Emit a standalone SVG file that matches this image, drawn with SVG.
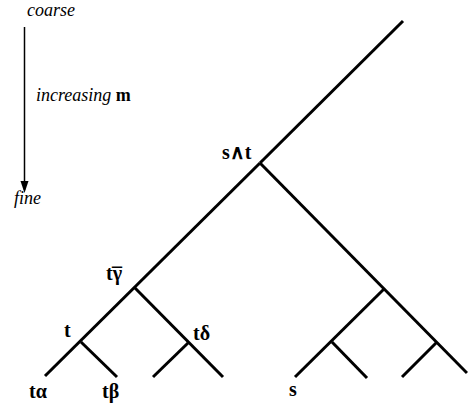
<svg xmlns="http://www.w3.org/2000/svg" width="468" height="405" viewBox="0 0 468 405">
<style>
.e{stroke:#000;stroke-width:3;fill:none;stroke-linecap:butt}
.l{font-family:"Liberation Serif","Times New Roman",serif;font-weight:bold;font-size:20px;fill:#000}
.i{font-family:"Liberation Serif","Times New Roman",serif;font-style:italic;font-size:18px;fill:#000}
</style>
<rect width="468" height="405" fill="#fff"/>
<g id="scale">
<text class="i" x="27" y="16">coarse</text>
<line x1="24.5" y1="27" x2="24.5" y2="190" stroke="#000" stroke-width="1.5"/>
<path d="M20.5,181 L28.5,181 L24.5,193 Z" fill="#000"/>
<text class="i" x="36" y="101">increasing <tspan font-style="normal" font-weight="bold">m</tspan></text>
<text class="i" x="14" y="204">fine</text>
</g>
<g id="connectors">
<line class="e" x1="403" y1="21" x2="260" y2="163"/>
<line class="e" x1="260" y1="163" x2="45" y2="376"/>
<line class="e" x1="81" y1="342" x2="117" y2="377"/>
<line class="e" x1="135" y1="288" x2="223" y2="377"/>
<line class="e" x1="188" y1="343" x2="153" y2="377"/>
<line class="e" x1="260" y1="163" x2="467" y2="373"/>
<line class="e" x1="437" y1="342" x2="402" y2="377"/>
<line class="e" x1="384" y1="289" x2="295" y2="377"/>
<line class="e" x1="332" y1="342" x2="367" y2="378"/>
</g>
<g id="n-swt"><text class="l" x="222" y="159">s∧t</text></g>
<g id="n-tgamma"><text class="l" x="106" y="280">tγ<tspan dx="-10" dy="2">¯</tspan></text></g>
<g id="n-t"><text class="l" x="64" y="337">t</text></g>
<g id="n-tdelta"><text class="l" x="193" y="340">tδ</text></g>
<g id="n-talpha"><text class="l" x="29" y="398">tα</text></g>
<g id="n-tbeta"><text class="l" x="102" y="398">tβ</text></g>
<g id="n-s"><text class="l" x="289" y="396">s</text></g>
</svg>
